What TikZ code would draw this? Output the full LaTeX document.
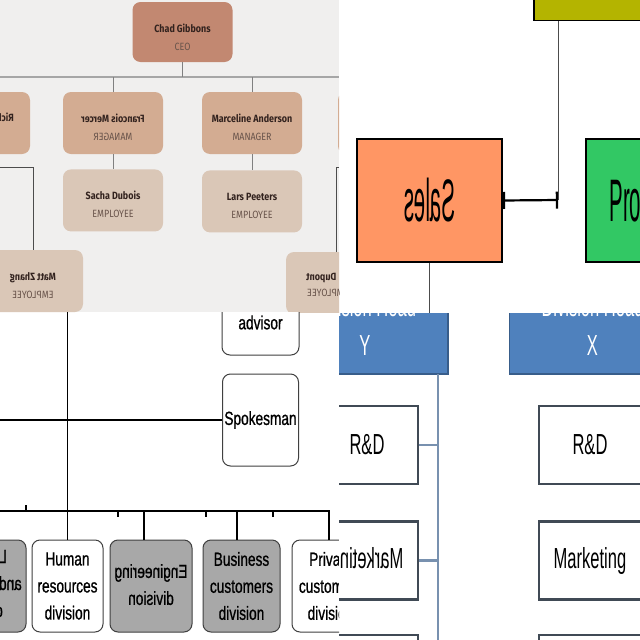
\documentclass[tikz,border=0pt]{standalone}
\usepackage{fontspec}
\usepackage{graphicx}
\usetikzlibrary{arrows.meta,positioning,calc}
\newfontfamily\orgfont[FakeStretch=0.85]{Fira Sans}
\newfontfamily\narrowfont[FakeStretch=0.72,FakeBold=0.8]{Liberation Sans}
\newfontfamily\unitfont[FakeStretch=0.57]{Liberation Sans}
\newfontfamily\tallfont[FakeStretch=0.34]{Liberation Sans}
\definecolor{tlback}{RGB}{240,239,238}
\definecolor{ceofill}{RGB}{194,136,113}
\definecolor{mgrfill}{RGB}{211,172,146}
\definecolor{empfill}{RGB}{218,199,183}
\definecolor{nametext}{RGB}{50,34,30}
\definecolor{roletext}{RGB}{105,84,75}
\definecolor{olivebox}{RGB}{180,180,0}
\definecolor{salesfill}{RGB}{255,150,100}
\definecolor{prodfill}{RGB}{50,200,100}
\definecolor{headfill}{RGB}{79,129,189}
\definecolor{headline}{RGB}{56,93,138}
\definecolor{unitline}{RGB}{64,74,85}
\definecolor{trunkline}{RGB}{120,145,175}
\definecolor{divgray}{RGB}{168,168,168}
\newcommand{\mirror}[1]{\reflectbox{\begin{tabular}[b]{@{}c@{}}#1\end{tabular}}}
\tikzset{
  person/.style={
    rounded corners=8pt,
    minimum width=100pt,
    minimum height=62pt,
    inner sep=0pt,
    align=center,
    text=nametext,
    text height=34pt,
    text depth=0pt,
    font=\fontsize{10.5}{18}\orgfont
  },
  ceo/.style={person, fill=ceofill, minimum height=60pt, text height=37pt},
  manager/.style={person, fill=mgrfill},
  employee/.style={person, fill=empfill},
  fragment/.style={inner sep=0pt, text=nametext, font=\fontsize{10.5}{18}\orgfont},
  orgbus/.style={draw=black!35, line width=2pt},
  orglink/.style={draw=black!50, line width=1pt},
  orgside/.style={draw=black!70, line width=0.8pt},
  dept/.style={
    draw=black,
    line width=1.8pt,
    minimum width=145pt,
    minimum height=123pt,
    inner sep=0pt,
    font=\fontsize{60}{60}\tallfont
  },
  deptlink/.style={draw=black, line width=2.2pt, arrows={Bar[width=17pt]-Bar[width=17pt]}},
  stem/.style={draw=black!70, line width=1pt},
  division/.style={
    draw=black!75,
    rounded corners=8pt,
    line width=1pt,
    minimum height=92pt,
    inner sep=0pt,
    align=center,
    font=\fontsize{19}{27}\narrowfont
  },
  wire/.style={draw=black, line width=1.3pt},
  head/.style={
    draw=headline,
    line width=1.5pt,
    fill=headfill,
    text=white,
    minimum width=166pt,
    minimum height=97pt,
    inner sep=0pt,
    align=center,
    font=\fontsize{29}{39}\unitfont
  },
  unit/.style={
    draw=unitline,
    line width=2.5pt,
    fill=white,
    minimum width=102pt,
    minimum height=78pt,
    inner sep=0pt,
    font=\fontsize{29}{30}\unitfont
  },
  trunk/.style={draw=trunkline, line width=2.5pt}
}

\begin{document}
\begin{tikzpicture}[x=1pt, y=-1pt]
  \useasboundingbox (0,0) rectangle (640,640);
  \fill[white] (0,0) rectangle (640,640);

  \begin{scope}
    \clip (0,0) rectangle (339,312);
    \fill[tlback] (0,0) rectangle (339,312);
    \coordinate (busw) at (0,77);
    \coordinate (buse) at (339,77);
    \node[ceo] (ceo) at (182.5,32) {\textbf{Chad Gibbons}\\\textcolor{roletext}{CEO}};
    \node[manager] (ric) at (-20,123) {};
    \node[fragment, anchor=east] (ricname) at (14,117) {\reflectbox{\textbf{Rich}}};
    \node[manager] (fm) at (113,123) {\mirror{\textbf{Francois Mercer}\\\textcolor{roletext}{MANAGER}}};
    \node[manager] (ma) at (252,123) {\textbf{Marceline Anderson}\\\textcolor{roletext}{MANAGER}};
    \node[manager] (mr) at (388,123) {};
    \node[employee, below=15pt of fm] (sd) {\textbf{Sacha Dubois}\\\textcolor{roletext}{EMPLOYEE}};
    \node[employee, below=16pt of ma] (lp) {\textbf{Lars Peeters}\\\textcolor{roletext}{EMPLOYEE}};
    \node[employee] (mz) at (33,281) {\mirror{\textbf{Matt Zhang}\\\textcolor{roletext}{EMPLOYEE}}};
    \node[employee] (dup) at (336,283) {};
    \node[fragment, anchor=west] (dupname) at (306,278) {\reflectbox{\textbf{Dupont}}};
    \node[fragment, anchor=west, text=roletext] (duprole) at (307,293) {\reflectbox{EMPLOYEE}};
    \draw[orgbus] (busw) -- (buse);
    \draw[orglink] (ceo.south) -- (ceo.south |- busw);
    \foreach \n in {fm,ma}
      \draw[orglink] (\n.north |- busw) -- (\n.north);
    \draw[orglink] (fm.south) -- (sd.north);
    \draw[orglink] (ma.south) -- (lp.north);
    \coordinate (mzin) at (0,167);
    \coordinate (dupin) at (339,167);
    \draw[orgside] (mzin) -| (mz.north);
    \draw[orgside] (dupin) -| (dup.north);
  \end{scope}

  \begin{scope}
    \clip (339,0) rectangle (640,313);
    \node[draw=black, line width=1.5pt, fill=olivebox, minimum width=180pt, minimum height=60pt, anchor=south west] (gm) at (533,21) {};
    \node[dept, fill=salesfill] (sales) at (429.5,200.5) {\reflectbox{Sales}};
    \node[dept, fill=prodfill, right=82pt of sales] (prod) {Production};
    \coordinate (tee) at (558,200);
    \draw[stem] (gm.south west -| tee) -- (tee);
    \draw[deptlink] (sales.east) -- (tee);
    \draw[stem] (sales.south) -- ++(0,52);
  \end{scope}

  \begin{scope}
    \clip (0,312) rectangle (339,640);
    \node[division, fill=white, minimum width=77pt, minimum height=65pt] (adv) at (260.5,322.5) {advisor};
    \node[division, fill=white, minimum width=76pt, below=18pt of adv] (spk) {Spokesman};
    \node[division, fill=divgray, minimum width=92pt] (d1) at (-20,586) {};
    \node[anchor=base east, inner sep=0pt, font=\fontsize{19}{27}\narrowfont] (d1text) at (22,563)
      {\reflectbox{\begin{tabular}[t]{@{}l@{}}\hspace*{15pt}L\\and\\\hspace*{19pt}d\end{tabular}}};
    \node[division, fill=white, minimum width=71pt] (hr) at (67.5,586) {Human\\resources\\division};
    \node[division, fill=divgray, minimum width=82pt, right=6pt of hr] (eng) {\mirror{Engineering\\division}};
    \node[division, fill=divgray, minimum width=77pt, right=10pt of eng] (biz) {Business\\customers\\division};
    \node[division, fill=white, minimum width=77pt, right=11pt of biz] (priv) {Private\\customers\\division};
    \coordinate (hrtop) at (67,300);
    \coordinate (spkin) at (0,418);
    \coordinate (rowbusw) at (0,511);
    \coordinate (rowbuse) at (329,511);
    \draw[wire] (hr.north |- hrtop) -- (hr.north);
    \draw[wire] (spkin |- spk.west) -- (spk.west);
    \draw[wire] (rowbusw) -- (rowbuse) -- (rowbuse |- priv.north);
    \draw[wire] (144,511) -- (144,511 |- eng.north);
    \draw[wire] (237,511) -- (237,511 |- biz.north);
    \foreach \tick in {118,206,273}
      \draw[wire] (\tick,511) -- ++(0,6);
    \draw[wire] (26,511) -- ++(0,-6);
  \end{scope}

  \begin{scope}
    \clip (339,313) rectangle (640,640);
    \node[head] (hy) at (365,325.5) {Division Head\\Y};
    \node[head, right=60pt of hy] (hx) {Division Head\\X};
    \node[unit] (rdy) at (367,445) {R\&D};
    \node[unit, below=35pt of rdy] (mky) {\reflectbox{Marketing}};
    \node[unit, below=33pt of mky] (u3y) {};
    \node[unit] (rdx) at (590,445) {R\&D};
    \node[unit, below=35pt of rdx] (mkx) {Marketing};
    \node[unit, below=33pt of mkx] (u3x) {};
    \coordinate (ytrunk) at (438,374);
    \draw[trunk] (ytrunk) -- ++(0,280);
    \foreach \u in {rdy,mky,u3y}
      \draw[trunk] (\u.east) -- (\u.east -| ytrunk);
  \end{scope}
\end{tikzpicture}
\end{document}
